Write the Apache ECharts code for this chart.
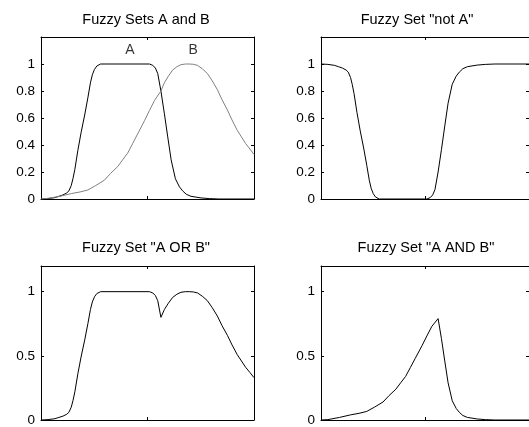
<!DOCTYPE html>
<html>
<head>
<meta charset="utf-8">
<script src="https://cdn.jsdelivr.net/npm/echarts@6/dist/echarts.min.js"></script>
<style>
html,body{margin:0;padding:0;background:#fff;}
#chart{width:529px;height:427px;}
</style>
</head>
<body>
<div id="chart"></div>
<script>
// ---- data ----
const titles = ['Fuzzy Sets A and B', 'Fuzzy Set "not A"', 'Fuzzy Set "A OR B"', 'Fuzzy Set "A AND B"'];
const setLabels = ['A', 'B'];
const setLabelPos = [[4.18, 1.1], [7.14, 1.1]];

const xA = [0, 0.33, 0.65, 0.84, 1.03, 1.21, 1.31, 1.42, 1.50, 1.59, 1.73, 1.88, 2.06, 2.20, 2.32, 2.41, 2.51, 2.62, 2.80, 5.09, 5.25, 5.37, 5.48, 5.63, 5.79, 5.95, 6.11, 6.31, 6.50, 6.65, 6.82, 7.04, 7.51, 7.90, 8.36, 10];
const yA = [0, 0.003, 0.01, 0.02, 0.03, 0.045, 0.06, 0.10, 0.15, 0.22, 0.36, 0.49, 0.63, 0.75, 0.86, 0.92, 0.96, 0.985, 1.0, 1.0, 0.99, 0.97, 0.93, 0.80, 0.635, 0.46, 0.29, 0.15, 0.09, 0.06, 0.035, 0.02, 0.008, 0.003, 0, 0];

const xB = [0, 0.33, 0.89, 1.42, 1.83, 2.20, 2.57, 2.98, 3.27, 3.60, 3.83, 4.07, 4.30, 4.53, 4.86, 5.09, 5.33, 5.63, 5.79, 5.98, 6.18, 6.38, 6.57, 6.78, 6.96, 7.15, 7.35, 7.57, 7.81, 8.04, 8.28, 8.50, 8.75, 8.97, 9.21, 9.41, 9.61, 9.81, 10];
const yB = [0, 0.005, 0.02, 0.04, 0.052, 0.067, 0.10, 0.14, 0.19, 0.24, 0.29, 0.34, 0.41, 0.48, 0.58, 0.655, 0.73, 0.80, 0.86, 0.91, 0.955, 0.98, 0.995, 1.0, 1.0, 0.998, 0.99, 0.965, 0.93, 0.875, 0.81, 0.735, 0.66, 0.585, 0.51, 0.46, 0.41, 0.37, 0.33];

const xNotA = [0, 0.33, 0.65, 0.84, 1.03, 1.21, 1.31, 1.42, 1.50, 1.59, 1.73, 1.88, 2.06, 2.20, 2.32, 2.41, 2.51, 2.62, 2.80, 5.09, 5.25, 5.37, 5.48, 5.63, 5.79, 5.95, 6.11, 6.31, 6.50, 6.65, 6.82, 7.04, 7.51, 7.90, 8.36, 10];
const yNotA = [1, 0.997, 0.99, 0.98, 0.97, 0.955, 0.94, 0.90, 0.85, 0.78, 0.64, 0.51, 0.37, 0.25, 0.14, 0.08, 0.04, 0.015, 0, 0, 0.01, 0.03, 0.07, 0.20, 0.365, 0.54, 0.71, 0.85, 0.91, 0.94, 0.965, 0.98, 0.992, 0.997, 1, 1];

const xOr = [0, 0.33, 0.65, 0.84, 1.03, 1.21, 1.31, 1.42, 1.50, 1.59, 1.73, 1.88, 2.06, 2.20, 2.32, 2.41, 2.51, 2.62, 2.80, 5.09, 5.25, 5.37, 5.48, 5.63, 5.79, 5.98, 6.18, 6.38, 6.57, 6.78, 6.96, 7.15, 7.35, 7.57, 7.81, 8.04, 8.28, 8.50, 8.75, 8.97, 9.21, 9.41, 9.61, 9.81, 10];
const yOr = [0, 0.003, 0.01, 0.02, 0.03, 0.045, 0.06, 0.10, 0.15, 0.22, 0.36, 0.49, 0.63, 0.75, 0.86, 0.92, 0.96, 0.985, 1.0, 1.0, 0.99, 0.97, 0.93, 0.80, 0.86, 0.91, 0.955, 0.98, 0.995, 1.0, 1.0, 0.998, 0.99, 0.965, 0.93, 0.875, 0.81, 0.735, 0.66, 0.585, 0.51, 0.46, 0.41, 0.37, 0.33];

const xAnd = [0, 0.33, 0.89, 1.42, 1.83, 2.20, 2.57, 2.98, 3.27, 3.60, 3.83, 4.07, 4.30, 4.53, 4.86, 5.09, 5.33, 5.63, 5.79, 5.95, 6.11, 6.31, 6.50, 6.65, 6.82, 7.04, 7.51, 7.90, 8.36, 10];
const yAnd = [0, 0.003, 0.02, 0.04, 0.052, 0.067, 0.10, 0.14, 0.19, 0.24, 0.29, 0.34, 0.41, 0.48, 0.58, 0.655, 0.73, 0.79, 0.635, 0.46, 0.29, 0.15, 0.09, 0.06, 0.035, 0.02, 0.008, 0.003, 0, 0];

const xMin = 0, xMax = 10, xStep = 5;
const yMaxAll = 1.2;
const yStepTop = 0.2, yStepBottom = 0.5;

// ---- build chart ----
function zip(xs, ys) { return xs.map((x, i) => [x, ys[i]]); }

const FONT = '"Liberation Sans", Arial, sans-serif';
const grids = [
  {left: 41, top: 37, width: 213, height: 162},
  {left: 321, top: 37, width: 213, height: 162},
  {left: 41, top: 266, width: 213, height: 158},
  {left: 321, top: 266, width: 213, height: 158}
];
const ySteps = [yStepTop, yStepTop, yStepBottom, yStepBottom];

const xAxes = [], yAxes = [];
grids.forEach((g, i) => {
  const common = {
    type: 'value', gridIndex: i, min: xMin, max: xMax, interval: xStep,
    axisLine: {show: true, onZero: false, lineStyle: {color: '#000', width: 1}},
    axisTick: {show: true, inside: true, length: 3, lineStyle: {color: '#000'}},
    axisLabel: {show: false}, splitLine: {show: false}
  };
  xAxes.push(Object.assign({position: 'bottom'}, common));
  xAxes.push(Object.assign({position: 'top'}, common));
  const ycommon = {
    type: 'value', gridIndex: i, min: 0, max: yMaxAll, interval: ySteps[i],
    axisLine: {show: true, onZero: false, lineStyle: {color: '#000', width: 1}},
    axisTick: {show: true, inside: true, length: 3, lineStyle: {color: '#000'}},
    splitLine: {show: false}
  };
  yAxes.push(Object.assign({position: 'left', axisLabel: {
    show: true, margin: 6, color: '#000', fontSize: 13.5, fontFamily: FONT,
    formatter: v => (v > 1.05 ? '' : String(+v.toFixed(2)))
  }}, ycommon));
  yAxes.push(Object.assign({position: 'right', axisLabel: {show: false}}, ycommon));
});

function lineSeries(gi, data, color, extra) {
  return Object.assign({
    type: 'line', xAxisIndex: gi * 2, yAxisIndex: gi * 2, data: data,
    showSymbol: false, symbol: 'none', smooth: false, silent: true,
    lineStyle: {color: color, width: 1}, z: 3
  }, extra || {});
}

const series = [
  lineSeries(0, zip(xA, yA), '#000'),
  lineSeries(0, zip(xB, yB), '#808080'),
  lineSeries(1, zip(xNotA, yNotA), '#000'),
  lineSeries(2, zip(xOr, yOr), '#000'),
  lineSeries(3, zip(xAnd, yAnd), '#000'),
  {
    type: 'scatter', xAxisIndex: 0, yAxisIndex: 0, silent: true,
    symbol: 'circle', symbolSize: 1,
    itemStyle: {color: 'rgba(0,0,0,0)'},
    data: setLabels.map((t, i) => ({value: setLabelPos[i], name: t})),
    label: {show: true, position: 'inside', formatter: p => p.name,
      color: '#000', fontSize: 14, fontFamily: FONT},
    z: 5
  }
];

const titlePos = [[146, 20], [417, 20], [146, 248], [426, 248]];
const graphic = titles.map((t, i) => ({
  type: 'text', x: titlePos[i][0], y: titlePos[i][1], silent: true,
  style: {text: t, fill: '#000', font: '14.5px ' + FONT, align: 'center', verticalAlign: 'middle'}
}));

const chart = echarts.init(document.getElementById('chart'), null, {renderer: 'canvas'});
chart.setOption({
  animation: false,
  backgroundColor: '#fff',
  grid: grids,
  xAxis: xAxes,
  yAxis: yAxes,
  series: series,
  graphic: graphic
});
</script>
</body>
</html>
